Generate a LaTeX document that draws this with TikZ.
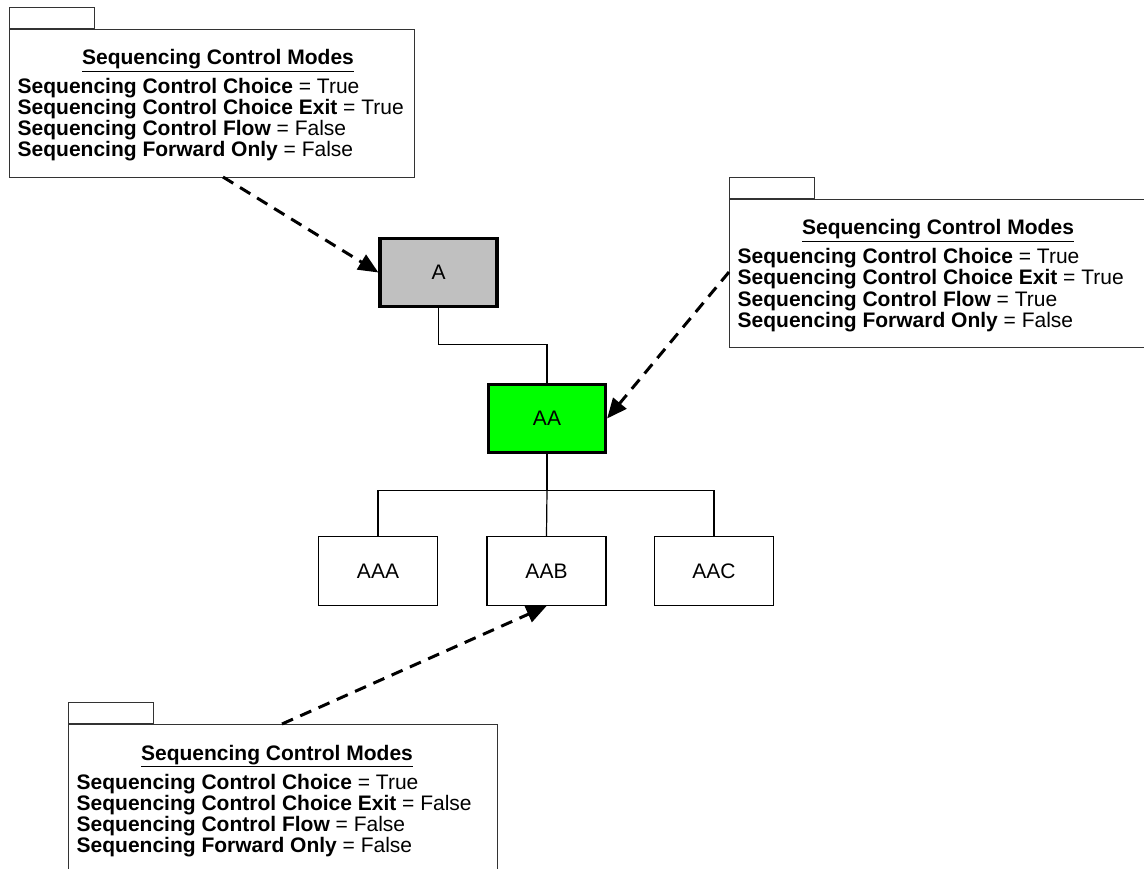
\documentclass[tikz,border=0pt]{standalone}
\usepackage{fontspec}
\setmainfont{Liberation Sans}
\usetikzlibrary{arrows.meta}

\definecolor{activegray}{HTML}{C0C0C0}
\definecolor{activegreen}{HTML}{00FF00}
\definecolor{frame}{HTML}{333333}

% A package-style note listing the sequencing control modes.
% #1 name, #2 left, #3 top of body, #4 body width, #5-#8 values
\newcommand{\modesnote}[8]{%
  \node[pkgtab] (#1-tab) at (#2,#3) {};
  \node[pkgbody, minimum width=#4pt] (#1) at (#2,#3) {};
  \node[heading] (#1-title) at (#2+209,#3+36) {\underline{Sequencing Control Modes}};
  \node[prop] (#1-choice)  at (#2+8.5,#3+65)  {\textbf{Sequencing Control Choice} = #5};
  \node[prop] (#1-exit)    at (#2+8.5,#3+86)  {\textbf{Sequencing Control Choice Exit} = #6};
  \node[prop] (#1-flow)    at (#2+8.5,#3+107) {\textbf{Sequencing Control Flow} = #7};
  \node[prop] (#1-forward) at (#2+8.5,#3+128) {\textbf{Sequencing Forward Only} = #8};
}

\begin{document}
\begin{tikzpicture}[x=1pt,y=-1pt,
  font=\fontsize{21}{21}\selectfont,
  pkgbody/.style={draw=frame, line width=1.2pt, fill=white, anchor=north west,
    inner sep=0pt, minimum height=148pt},
  pkgtab/.style={draw=frame, line width=1.2pt, fill=white, anchor=south west,
    inner sep=0pt, minimum width=85pt, minimum height=21pt},
  heading/.style={anchor=base, inner sep=0pt, font=\fontsize{21}{21}\selectfont\bfseries},
  prop/.style={anchor=base west, inner sep=0pt},
  item/.style={draw=black, line width=1.2pt, minimum width=119pt, minimum height=69pt,
    inner sep=0pt, fill=white},
  active/.style={draw=black, line width=3.2pt, minimum width=117pt, minimum height=68pt,
    inner sep=0pt},
  tree/.style={draw=black, line width=1.2pt},
  note/.style={line width=3pt, dash pattern=on 12pt off 8pt,
    -{Triangle[length=20pt,width=17pt]}}
]
\clip (0,0) rectangle (1144,869);
\fill[white] (0,0) rectangle (1144,869);

% activity tree
\node[active, fill=activegray]  (A)   at (438.5,272.5) {A};
\node[active, fill=activegreen] (AA)  at (547,418.5)   {AA};
\node[item] (AAA) at (378,571)   {AAA};
\node[item] (AAB) at (546.5,571) {AAB};
\node[item] (AAC) at (714,571)   {AAC};

\draw[tree] (A.south) -- ++(0,36) -| (AA.north);
\draw[tree] (AA.south) -- ++(0,36) coordinate (fork) -| (AAA.north);
\draw[tree] (fork) -| (AAC.north);
\draw[tree] (fork) -- (AAB.north);

% notes
\modesnote{noteA}{9}{29}{405}{True}{True}{False}{False}
\modesnote{noteAA}{729}{199}{429}{True}{True}{True}{False}
\modesnote{noteAAB}{68}{724}{429}{True}{False}{False}{False}

\coordinate (fromA)   at (223,177);
\coordinate (fromAA)  at (729,272);
\coordinate (fromAAB) at (282,724);

\draw[note] (fromA)   -- (A.west);
\draw[note] (fromAA)  -- (AA.east);
\draw[note] (fromAAB) -- (AAB.south);
\end{tikzpicture}
\end{document}
